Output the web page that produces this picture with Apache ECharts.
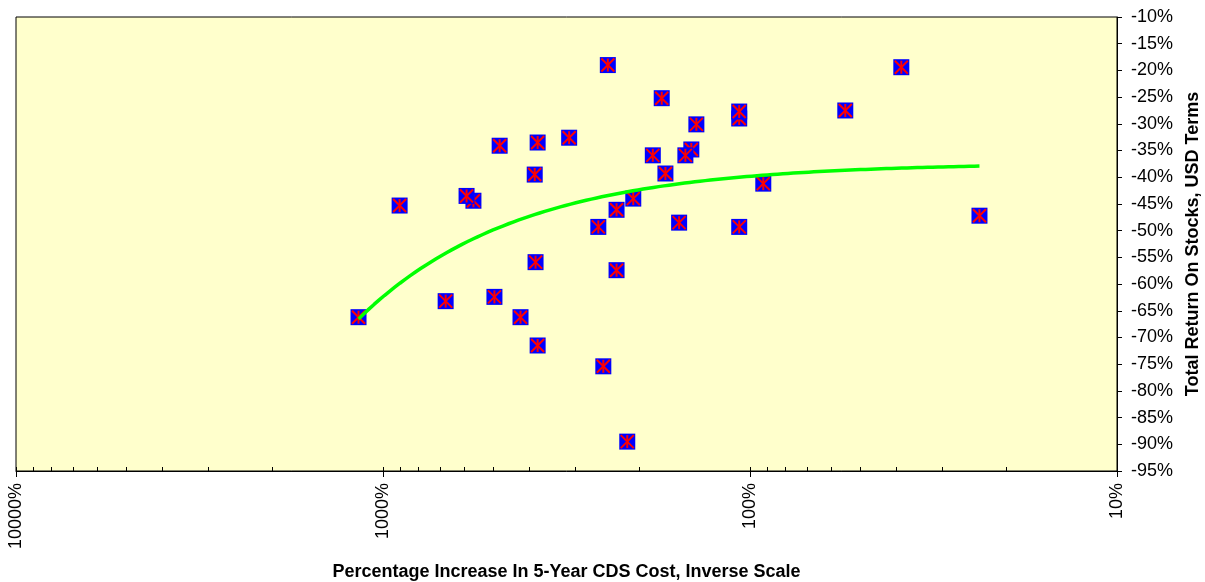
<!DOCTYPE html>
<html>
<head>
<meta charset="utf-8">
<script src="https://cdn.jsdelivr.net/npm/echarts@6/dist/echarts.min.js"></script>
<style>
  html, body { margin: 0; padding: 0; background: #ffffff; }
  #chart { width: 1205px; height: 582px; }
</style>
</head>
<body>
<div id="chart"></div>
<script>
// Percentage increase in 5-year CDS cost (x, log scale shown inverted)
const cdsIncrease = [1166, 901, 675, 567, 592, 497, 481, 422, 384, 386, 379, 379, 311, 259, 251, 244, 231, 231, 216, 208, 184, 174, 170, 156, 144.5, 150, 140, 107, 107, 107, 92, 55, 38.7, 23.7];
// Total return on stocks in USD terms (y, %)
const stockReturn = [-66.2, -45.3, -63.2, -44.4, -43.5, -62.4, -34.1, -66.2, -55.9, -39.5, -33.5, -71.5, -32.6, -49.3, -75.4, -19.0, -46.1, -57.4, -89.5, -44.0, -35.9, -25.2, -39.3, -48.5, -34.8, -35.9, -30.1, -49.3, -29.0, -27.7, -41.2, -27.5, -19.4, -47.2];

// Axis tick labels / ranges
const xMajorTicks = [10, 100, 1000, 10000];
const xMinorTicks = [20, 30, 40, 50, 60, 70, 80, 90, 200, 300, 400, 500, 600, 700, 800, 900, 2000, 3000, 4000, 5000, 6000, 7000, 8000, 9000];
const yMin = -95, yMax = -10, yStep = 5;

const FONT = 'Arial, "Liberation Sans", sans-serif';

// Least-squares linear trend of return against CDS increase
function linearFit(xs, ys) {
  const n = xs.length;
  const mx = xs.reduce((a, b) => a + b, 0) / n;
  const my = ys.reduce((a, b) => a + b, 0) / n;
  let sxy = 0, sxx = 0;
  for (let i = 0; i < n; i++) {
    sxy += (xs[i] - mx) * (ys[i] - my);
    sxx += (xs[i] - mx) * (xs[i] - mx);
  }
  const slope = sxy / sxx;
  return { slope, intercept: my - slope * mx };
}
const fit = linearFit(cdsIncrease, stockReturn);
const xLo = Math.min(...cdsIncrease), xHi = Math.max(...cdsIncrease);
// sample the straight trend along the log axis so it renders smoothly
const trend = [];
const steps = 120;
for (let i = 0; i <= steps; i++) {
  const x = Math.pow(10, Math.log10(xLo) + (Math.log10(xHi) - Math.log10(xLo)) * i / steps);
  trend.push([x, fit.intercept + fit.slope * x]);
}

const points = cdsIncrease.map((x, i) => [x, stockReturn[i]]);

const chart = echarts.init(document.getElementById('chart'), null, { renderer: 'canvas' });
chart.setOption({
  animation: false,
  backgroundColor: '#ffffff',
  grid: {
    left: 16, right: 88, top: 17, bottom: 111,
    outerBoundsMode: 'none', containLabel: false,
    show: true, backgroundColor: '#FFFFCC', borderColor: '#000000', borderWidth: 1
  },
  xAxis: [{
    type: 'log', logBase: 10, min: 10, max: 10000, inverse: true,
    position: 'bottom',
    name: 'Percentage Increase In 5-Year CDS Cost, Inverse Scale',
    nameLocation: 'middle', nameGap: 92,
    nameTextStyle: { fontFamily: FONT, fontSize: 18, fontWeight: 'bold', color: '#000' },
    axisLine: { show: true, lineStyle: { color: '#000', width: 1 } },
    axisTick: { show: true, length: 6, lineStyle: { color: '#000' } },
    axisLabel: {
      rotate: 90, margin: 12, fontFamily: FONT, fontSize: 18, color: '#000',
      formatter: v => Math.round(v) + '%'
    },
    splitLine: { show: false },
    minorTick: { show: false }
  }, {
    type: 'log', logBase: 10, min: 10, max: 10000, inverse: true,
    position: 'bottom', offset: 0,
    axisLine: { show: false },
    axisTick: { show: true, inside: true, length: 4, lineStyle: { color: '#000' },
      customValues: xMinorTicks.concat(xMajorTicks) },
    axisLabel: { show: false },
    splitLine: { show: false }
  }],
  yAxis: {
    type: 'value', min: yMin, max: yMax, interval: yStep,
    position: 'right',
    name: 'Total Return On Stocks, USD Terms',
    nameLocation: 'middle', nameRotate: 90, nameGap: 66,
    nameTextStyle: { fontFamily: FONT, fontSize: 18, fontWeight: 'bold', color: '#000' },
    axisLine: { show: true, lineStyle: { color: '#000', width: 1 } },
    axisTick: { show: true, length: 5, lineStyle: { color: '#000' } },
    axisLabel: { margin: 14, fontFamily: FONT, fontSize: 18, color: '#000',
      formatter: v => v + '%' },
    splitLine: { show: false }
  },
  series: [{
    type: 'custom',
    xAxisIndex: 0,
    data: points,
    encode: { x: 0, y: 1 },
    renderItem: function (params, api) {
      const p = api.coord([api.value(0), api.value(1)]);
      const h = 8, s = 6.5;
      const red = { stroke: '#FF0000', lineWidth: 2 };
      return {
        type: 'group',
        children: [
          { type: 'rect', shape: { x: p[0] - h, y: p[1] - h, width: 2 * h, height: 2 * h }, style: { fill: '#0000FF' } },
          { type: 'line', shape: { x1: p[0], y1: p[1] - s, x2: p[0], y2: p[1] + s }, style: red },
          { type: 'line', shape: { x1: p[0] - s, y1: p[1] - s, x2: p[0] + s, y2: p[1] + s }, style: red },
          { type: 'line', shape: { x1: p[0] + s, y1: p[1] - s, x2: p[0] - s, y2: p[1] + s }, style: red }
        ]
      };
    },
    z: 2
  }, {
    type: 'line',
    xAxisIndex: 0,
    data: trend,
    showSymbol: false,
    symbol: 'none',
    lineStyle: { color: '#00FF00', width: 3.5 },
    z: 3
  }]
});
</script>
</body>
</html>
